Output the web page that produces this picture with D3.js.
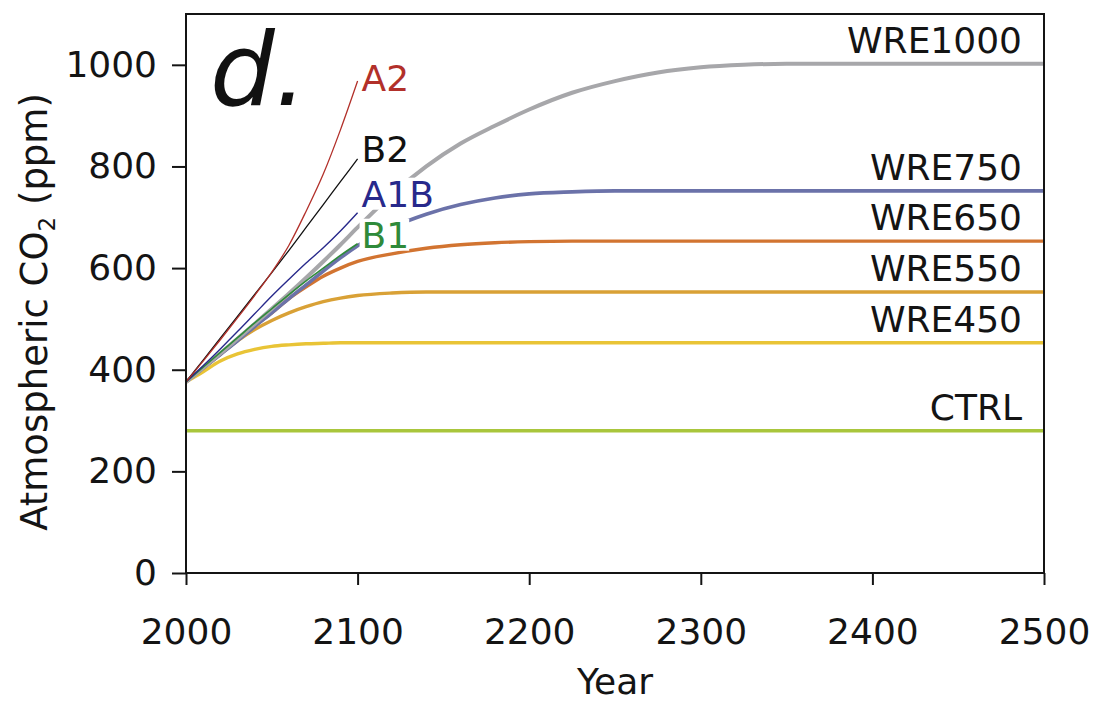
<!DOCTYPE html>
<html>
<head>
<meta charset="utf-8">
<script src="https://cdn.jsdelivr.net/npm/d3@7"></script>
<style>
  html, body { margin: 0; padding: 0; background: #fff; }
  svg { display: block; font-family: "DejaVu Sans", Verdana, sans-serif; }
</style>
</head>
<body>
<svg id="chart" width="1096" height="702"></svg>
<script>
// ---- Data: atmospheric CO2 (ppm) pathways ----
const sresYears = [2000, 2010, 2020, 2030, 2040, 2050, 2060, 2070, 2080, 2090, 2100];
const sresA2  = [376, 417, 459, 502, 546, 592, 645, 712, 785, 872, 968];
const sresB2  = [376, 419, 462, 505, 548, 591, 635, 680, 725, 770, 815];
const sresA1B = [376, 408, 441, 475, 510, 545, 578, 610, 640, 673, 709];
const sresB1  = [376, 405, 434, 463, 492, 520, 548, 575, 600, 625, 648];

const wreYears = [2000, 2010, 2020, 2030, 2040, 2050, 2060, 2070, 2080, 2090, 2100,
                  2120, 2140, 2160, 2180, 2200, 2225, 2250, 2275, 2300, 2325, 2350,
                  2400, 2450, 2500];
const wre450  = [376, 396, 417, 431, 440, 446, 449, 451, 452, 453, 453,
                 453, 453, 453, 453, 453, 453, 453, 453, 453, 453, 453, 453, 453, 453];
const wre550  = [376, 404, 432, 457, 479, 497, 512, 524, 534, 541, 546,
                 551, 553, 553, 553, 553, 553, 553, 553, 553, 553, 553, 553, 553, 553];
const wre650  = [376, 403, 430, 458, 486, 512, 540, 563, 584, 600, 613,
                 628, 639, 646, 650, 652, 653, 653, 653, 653, 653, 653, 653, 653, 653];
const wre750  = [376, 403, 430, 457, 485, 512, 540, 567, 594, 620, 644,
                 680, 706, 725, 738, 746, 750, 752, 752, 752, 752, 752, 752, 752, 752];
const wre1000 = [376, 404, 432, 461, 490, 520, 550, 581, 613, 646, 680,
                 745, 800, 845, 880, 912, 945, 968, 985, 995, 1000, 1002, 1002, 1002, 1002];

const ctrlYears = [2000, 2500];
const ctrl = [280, 280];

const xTicks = [2000, 2100, 2200, 2300, 2400, 2500];
const yTicks = [0, 200, 400, 600, 800, 1000];

// ---- Layout ----
const svg = d3.select("#chart");
const plotLeft = 186, plotRight = 1044, plotTop = 14, plotBottom = 573;
const ink = "#141414";

const x = d3.scaleLinear().domain([2000, 2500]).range([plotLeft, plotRight]);
const y = d3.scaleLinear().domain([0, 1100]).range([plotBottom, plotTop]);

const zip = (ys, vs) => ys.map((yr, i) => ({ year: yr, value: vs[i] }));

// stabilisation pathways (labelled at the right edge) and SRES scenarios (labelled at 2100)
const wreSeries = [
  { name: "CTRL",    pts: zip(ctrlYears, ctrl),   color: "#a9c63c", width: 3.4 },
  { name: "WRE450",  pts: zip(wreYears, wre450),  color: "#e9c436", width: 3.4 },
  { name: "WRE550",  pts: zip(wreYears, wre550),  color: "#d9a136", width: 3.4 },
  { name: "WRE650",  pts: zip(wreYears, wre650),  color: "#d27431", width: 3.4 },
  { name: "WRE750",  pts: zip(wreYears, wre750),  color: "#6b72a9", width: 3.6 },
  { name: "WRE1000", pts: zip(wreYears, wre1000), color: "#a7a7aa", width: 4.0 }
];
const sresSeries = [
  { name: "B1",  pts: zip(sresYears, sresB1),  color: "#2f8a3a", width: 1.6, labelDy: 4 },
  { name: "A1B", pts: zip(sresYears, sresA1B), color: "#28298b", width: 1.4, labelDy: -6 },
  { name: "B2",  pts: zip(sresYears, sresB2),  color: "#111111", width: 1.3, labelDy: 3 },
  { name: "A2",  pts: zip(sresYears, sresA2),  color: "#b2302a", width: 1.3, labelDy: 10 }
];

const line = d3.line()
  .x(d => x(d.year))
  .y(d => y(d.value))
  .curve(d3.curveMonotoneX);

const plot = svg.append("g");

plot.selectAll("path.wre")
  .data(wreSeries)
  .join("path")
  .attr("class", "wre")
  .attr("d", d => line(d.pts))
  .attr("fill", "none")
  .attr("stroke", d => d.color)
  .attr("stroke-width", d => d.width)
  .attr("stroke-linecap", "butt");

plot.selectAll("path.sres")
  .data(sresSeries)
  .join("path")
  .attr("class", "sres")
  .attr("d", d => line(d.pts))
  .attr("fill", "none")
  .attr("stroke", d => d.color)
  .attr("stroke-width", d => d.width);

// right-edge labels for the stabilisation pathways
plot.selectAll("text.wreLabel")
  .data(wreSeries)
  .join("text")
  .attr("class", "wreLabel")
  .attr("x", plotRight - 22)
  .attr("y", d => y(d.pts[d.pts.length - 1].value) - 11)
  .attr("text-anchor", "end")
  .attr("font-size", 36)
  .attr("fill", ink)
  .text(d => d.name);

// SRES labels sit on white boxes that mask the curves beneath them
const sresLabels = plot.selectAll("g.sresLabel")
  .data(sresSeries)
  .join("g")
  .attr("class", "sresLabel")
  .attr("transform", d => {
    const last = d.pts[d.pts.length - 1];
    return `translate(${x(last.year) + 4},${y(last.value) + d.labelDy})`;
  });

sresLabels.append("rect").attr("fill", "#fff");
sresLabels.append("text")
  .attr("x", 0)
  .attr("y", 0)
  .attr("font-size", 36)
  .attr("fill", d => d.color)
  .text(d => d.name);
sresLabels.each(function () {
  const g = d3.select(this);
  const w = g.select("text").node().getComputedTextLength();
  g.select("rect")
    .attr("x", -2)
    .attr("y", -29)
    .attr("width", w + 2)
    .attr("height", 32);
});

// ---- Frame and axes ----
svg.append("rect")
  .attr("x", plotLeft).attr("y", plotTop)
  .attr("width", plotRight - plotLeft).attr("height", plotBottom - plotTop)
  .attr("fill", "none")
  .attr("stroke", ink)
  .attr("stroke-width", 2);

const xAxis = svg.append("g")
  .attr("transform", `translate(0,${plotBottom})`)
  .call(d3.axisBottom(x).tickValues(xTicks).tickFormat(d3.format("d"))
    .tickSize(12).tickPadding(33));
const yAxis = svg.append("g")
  .attr("transform", `translate(${plotLeft},0)`)
  .call(d3.axisLeft(y).tickValues(yTicks).tickFormat(d3.format("d"))
    .tickSize(14).tickPadding(15));

[xAxis, yAxis].forEach(ax => {
  ax.select(".domain").remove();
  ax.selectAll(".tick line").attr("stroke", ink).attr("stroke-width", 2);
  ax.selectAll(".tick text")
    .attr("font-family", "DejaVu Sans, Verdana, sans-serif")
    .attr("font-size", 36)
    .attr("fill", ink);
});

// axis titles
svg.append("text")
  .attr("x", (plotLeft + plotRight) / 2)
  .attr("y", 694)
  .attr("text-anchor", "middle")
  .attr("font-size", 36)
  .attr("fill", ink)
  .text("Year");

const yTitle = svg.append("text")
  .attr("transform", "translate(47,312) rotate(-90)")
  .attr("text-anchor", "middle")
  .attr("font-size", 37)
  .attr("fill", ink);
yTitle.append("tspan").text("Atmospheric CO");
yTitle.append("tspan").attr("font-size", 23).attr("dy", 8).text("2");
yTitle.append("tspan").attr("dy", -8).text(" (ppm)");

// panel letter
svg.append("text")
  .attr("x", 210)
  .attr("y", 105)
  .attr("font-size", 102)
  .attr("font-style", "italic")
  .attr("fill", "#111")
  .text("d.");
</script>
</body>
</html>
